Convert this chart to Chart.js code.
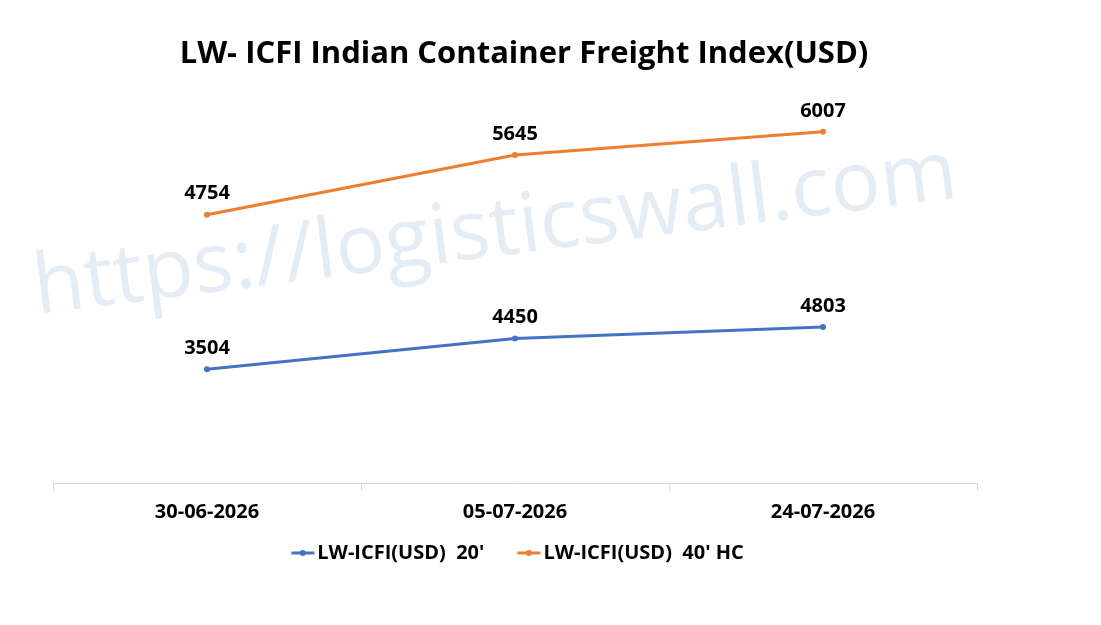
<!DOCTYPE html>
<html>
<head>
<meta charset="utf-8">
<script src="https://cdn.jsdelivr.net/npm/chart.js@4.4.1/dist/chart.umd.min.js"></script>
<style>
  body { margin: 0; background: #fff; }
  #wrap { width: 1101px; height: 625px; }
</style>
</head>
<body>
<div id="wrap"><canvas id="freightChart" width="1101" height="625"></canvas></div>
<script>
var dates = ['30-06-2026', '05-07-2026', '24-07-2026'];
var teu20 = [3504, 4450, 4803];
var hc40 = [4754, 5645, 6007];
var seriesNames = ["LW-ICFI(USD)  20'", "LW-ICFI(USD)  40' HC"];

var blue = '#4472C4';
var orange = '#ED7D31';

// little line-with-dot marker for the legend, like excel draws it
// (image is wider than the box so the marker sits close to its text)
function legendMarker(color) {
  var c = document.createElement('canvas');
  c.width = 48; c.height = 10;
  var g = c.getContext('2d');
  g.strokeStyle = color;
  g.lineWidth = 3;
  g.beginPath(); g.moveTo(24.5, 5); g.lineTo(47.5, 5); g.stroke();
  g.fillStyle = color;
  g.beginPath(); g.arc(36, 5, 3, 0, Math.PI * 2); g.fill();
  return c;
}

// excel doesn't centre title / legend exactly on the plot, nudge them
var nudge = {
  id: 'nudge',
  afterLayout: function(chart) {
    chart.titleBlock.left += 18;
    chart.legend.left -= 12;
  }
};

var watermark = {
  id: 'watermark',
  beforeDatasetsDraw: function(chart) {
    var ctx = chart.ctx;
    var txt = 'https://logisticswall.com';
    ctx.save();
    ctx.font = '400 82px "Open Sans"';
    var w = ctx.measureText(txt).width;
    var size = 82 * 930 / w;
    ctx.font = '400 ' + size + 'px "Open Sans"';
    ctx.translate(37, 314);
    ctx.rotate(-7.2 * Math.PI / 180);
    ctx.fillStyle = '#e4edf6';
    ctx.textBaseline = 'alphabetic';
    ctx.fillText(txt, 0, 0);
    ctx.restore();
  }
};

var valueLabels = {
  id: 'valueLabels',
  afterDatasetsDraw: function(chart) {
    var ctx = chart.ctx;
    ctx.save();
    ctx.font = 'bold 20px "Open Sans"';
    ctx.fillStyle = '#000';
    ctx.textAlign = 'center';
    ctx.textBaseline = 'middle';
    chart.data.datasets.forEach(function(ds, i) {
      var meta = chart.getDatasetMeta(i);
      meta.data.forEach(function(pt, j) {
        ctx.fillText(String(ds.data[j]), pt.x, pt.y - 21);
      });
    });
    ctx.restore();
  }
};

new Chart(document.getElementById('freightChart'), {
  type: 'line',
  data: {
    labels: dates,
    datasets: [{
      label: seriesNames[0],
      data: teu20,
      borderColor: blue,
      backgroundColor: blue,
      borderWidth: 3,
      pointRadius: 3,
      pointBackgroundColor: blue,
      pointBorderWidth: 0,
      tension: 0,
      fill: false
    }, {
      label: seriesNames[1],
      data: hc40,
      borderColor: orange,
      backgroundColor: orange,
      borderWidth: 3,
      pointRadius: 3,
      pointBackgroundColor: orange,
      pointBorderWidth: 0,
      tension: 0,
      fill: false
    }]
  },
  options: {
    responsive: false,
    animation: false,
    devicePixelRatio: 1,
    layout: {
      padding: { left: 53, right: 124, top: 0, bottom: 52 }
    },
    scales: {
      x: {
        offset: true,
        afterFit: function(scale) { scale.height -= 6; },
        grid: {
          offset: true,
          drawOnChartArea: false,
          color: '#d9d9d9',
          tickLength: 8
        },
        border: { color: '#d9d9d9', width: 1 },
        ticks: {
          padding: 9,
          color: '#000',
          font: { family: '"Open Sans"', size: 20, weight: 'bold' }
        }
      },
      y: {
        display: false,
        stacked: true,
        min: 0,
        max: 12000
      }
    },
    plugins: {
      title: {
        display: true,
        text: 'LW- ICFI Indian Container Freight Index(USD)',
        color: '#000',
        font: { family: '"Open Sans"', size: 31, weight: 'bold' },
        padding: { top: 36, bottom: 20 }
      },
      legend: {
        position: 'bottom',
        labels: {
          color: '#000',
          font: { family: '"Open Sans"', size: 20, weight: 'bold' },
          padding: 16,
          usePointStyle: true,
          pointStyleWidth: 33,
          generateLabels: function(chart) {
            return chart.data.datasets.map(function(ds, i) {
              return {
                text: ds.label,
                pointStyle: legendMarker(ds.borderColor),
                fillStyle: ds.borderColor,
                strokeStyle: ds.borderColor,
                lineWidth: 0,
                fontColor: '#000',
                hidden: false,
                datasetIndex: i
              };
            });
          }
        }
      },
      tooltip: { enabled: false }
    }
  },
  plugins: [nudge, watermark, valueLabels]
});
</script>
</body>
</html>
